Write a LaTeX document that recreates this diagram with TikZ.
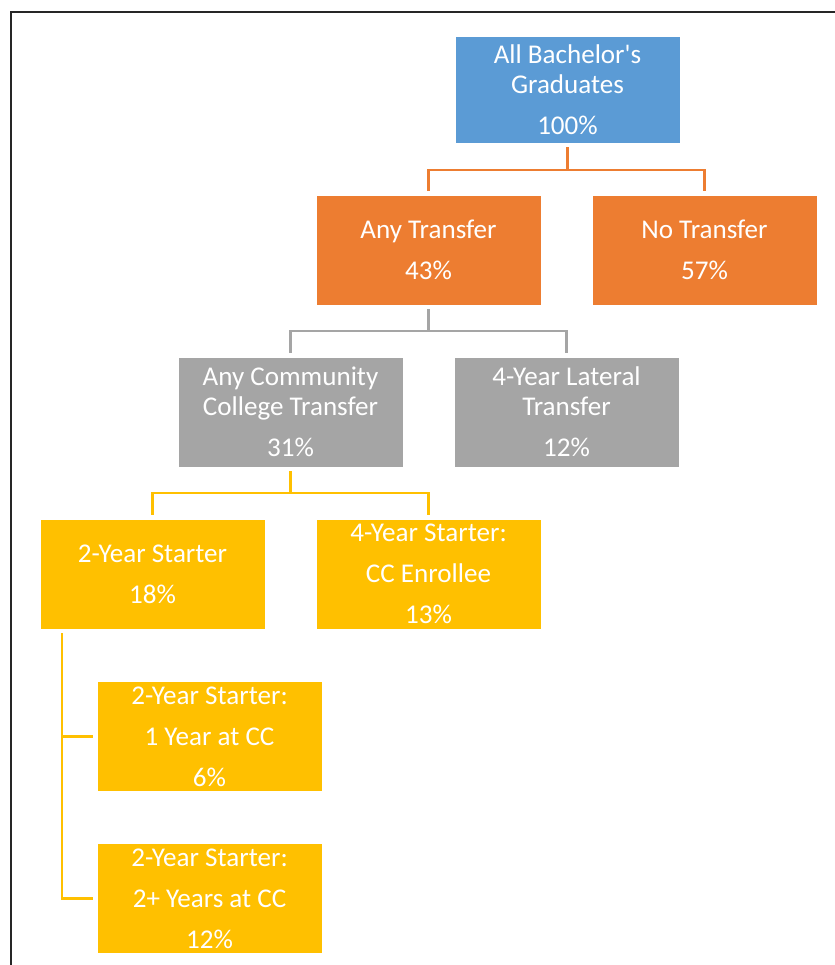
\documentclass[tikz,border=0pt]{standalone}
\usepackage{fontspec}
\setmainfont{Carlito}
\definecolor{cblue}{HTML}{5B9BD5}
\definecolor{corange}{HTML}{ED7D31}
\definecolor{cgray}{HTML}{A5A5A5}
\definecolor{cgold}{HTML}{FFC000}
\definecolor{cframe}{HTML}{262626}
\begin{document}
\begin{tikzpicture}[x=0.75pt,y=-0.75pt,
  box/.style={rectangle, draw=white, line width=0.4pt, inner sep=0pt,
    minimum width=168.75pt, minimum height=82.5pt, text=white, align=center,
    font=\fontsize{20.3}{22.5}\selectfont},
  bluebox/.style={box, fill=cblue, minimum height=80.25pt},
  orangebox/.style={box, fill=corange},
  graybox/.style={box, fill=cgray},
  goldbox/.style={box, fill=cgold},
  conn/.style={line width=1.6pt},
  oline/.style={conn, draw=corange},
  grline/.style={conn, draw=cgray},
  gline/.style={conn, draw=cgold}]
\useasboundingbox (0,0) rectangle (835,965);
\draw[line width=1.9pt, cframe] (11.2,966) -- (11.2,12.2) -- (836,12.2);

\node[bluebox] (top) at (567.5,89.5) {All Bachelor\textquotesingle s\\Graduates\\[8.25pt]100\%};
\node[orangebox] (anyT) at (428.5,250) {Any Transfer\\[8.25pt]43\%};
\node[orangebox] (noT) at (704.5,250) {No Transfer\\[8.25pt]57\%};
\node[graybox] (cc) at (290.5,412) {Any Community\\College Transfer\\[8.25pt]31\%};
\node[graybox] (lat) at (566.5,412) {4-Year Lateral\\Transfer\\[8.25pt]12\%};
\node[goldbox] (two) at (152.5,574) {2-Year Starter\\[8.25pt]18\%};
\node[goldbox] (four) at (428.5,574) {4-Year Starter:\\[8.25pt]CC Enrollee\\[8.25pt]13\%};
\node[goldbox] (one) at (209.5,736.5) {2-Year Starter:\\[8.25pt]1 Year at CC\\[8.25pt]6\%};
\node[goldbox] (twoplus) at (209.5,898.5) {2-Year Starter:\\[8.25pt]2+ Years at CC\\[8.25pt]12\%};

\draw[oline] ([yshift=-3pt]top.south) -- ++(0,23) -| ([yshift=3pt]anyT.north);
\draw[oline] ([yshift=-3pt]top.south) -- ++(0,23) -| ([yshift=3pt]noT.north);
\draw[grline] ([yshift=-3pt]anyT.south) -- ++(0,22) -| ([yshift=3pt]cc.north);
\draw[grline] ([yshift=-3pt]anyT.south) -- ++(0,22) -| ([yshift=3pt]lat.north);
\draw[gline] ([yshift=-3pt]cc.south) -- ++(0,22) -| ([yshift=3pt]two.north);
\draw[gline] ([yshift=-3pt]cc.south) -- ++(0,22) -| ([yshift=3pt]four.north);
\draw[gline] ([shift={(22,4)}]two.south west) |- ([xshift=-3pt]one.west);
\draw[gline] ([shift={(22,4)}]two.south west) |- ([xshift=-3pt]twoplus.west);
\end{tikzpicture}
\end{document}
